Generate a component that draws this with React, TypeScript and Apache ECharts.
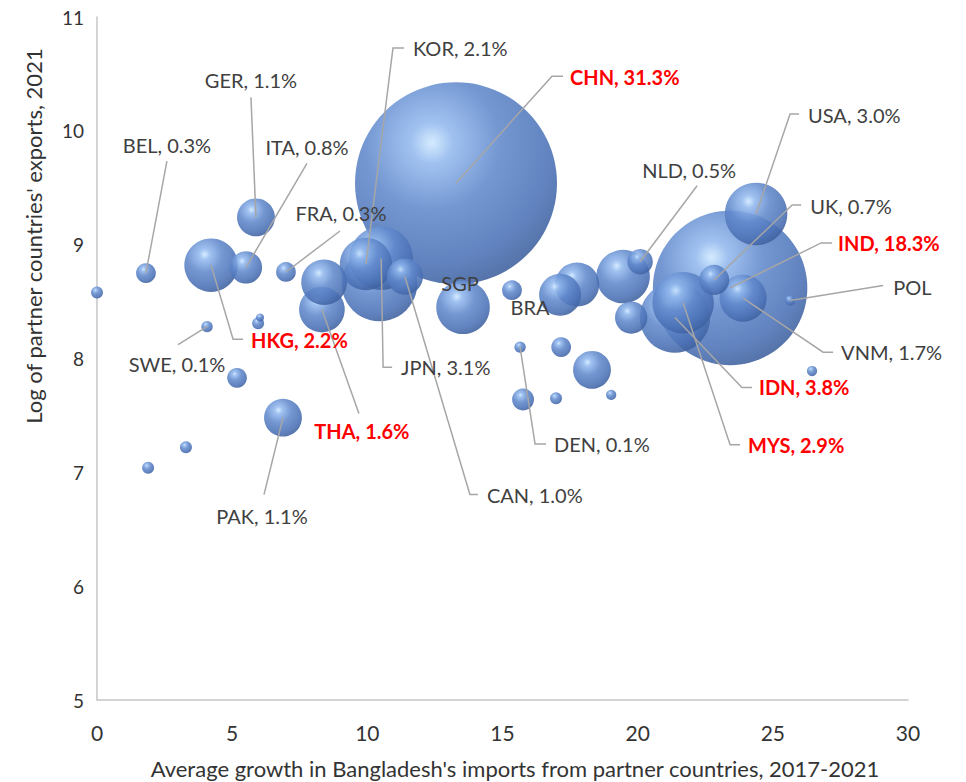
import React, { useEffect, useRef } from "react";
import * as echarts from "echarts";

// ---------------- data ----------------
const countries = [
  "CHN", "IND", "IDN", "JPN", "USA", "MYS", "HKG", "KOR", "VNM", "THA",
  "GER", "PAK", "CAN", "ITA", "UK", "NLD", "BEL", "FRA", "SWE", "DEN",
  "SGP", "BRA", "POL",
  "", "", "", "", "", "", "", "", "", "", "", "", "", "", "", "", "", "",
];
// average growth in imports 2017-2021 (x)
const growth = [
  13.28, 23.42, 21.38, 10.51, 24.38, 21.68, 4.22, 9.95, 23.9, 8.32,
  5.88, 6.88, 11.39, 5.51, 22.83, 20.09, 1.81, 6.99, 4.07, 15.65,
  13.54, 15.35, 25.64,
  0.0, 5.18, 3.29, 1.89, 5.96, 6.03, 8.4, 10.45, 17.76, 17.13, 19.46, 19.76,
  17.17, 18.31, 15.76, 16.98, 19.02, 26.45,
];
// log of partner exports, 2021 (y)
const logExports = [
  9.54, 8.62, 8.36, 8.88, 9.27, 8.49, 8.82, 8.83, 8.53, 8.43,
  9.24, 7.48, 8.72, 8.8, 8.69, 8.85, 8.75, 8.76, 8.28, 8.1,
  8.45, 8.6, 8.51,
  8.58, 7.83, 7.22, 7.04, 8.31, 8.36, 8.67, 8.66, 8.65, 8.56, 8.72, 8.36,
  8.1, 7.9, 7.64, 7.65, 7.68, 7.89,
];
// share of Bangladesh's imports, % (bubble size)
const importShare = [
  31.3, 18.3, 3.8, 3.1, 3.0, 2.9, 2.2, 2.1, 1.7, 1.6,
  1.1, 1.1, 1.0, 0.8, 0.7, 0.5, 0.3, 0.3, 0.1, 0.1,
  2.2, 0.3, 0.08,
  0.11, 0.3, 0.11, 0.11, 0.11, 0.05, 1.6, 4.4, 1.5, 1.35, 2.2, 0.8,
  0.3, 1.1, 0.37, 0.11, 0.08, 0.08,
];
const showShare = ["SGP", "BRA", "POL"]; // labelled without share
const highlighted = ["CHN", "IND", "IDN", "MYS", "HKG", "THA"];

const xTitle = "Average growth in Bangladesh's imports from partner countries, 2017-2021";
const yTitle = "Log of partner countries' exports, 2021";

// ---------------- label layout (pixel offsets from bubble centre) ----------------
type LabelLayout = { t: [number, number]; align: "left" | "center"; line: [number, number][] };
const labelLayout: Record<string, LabelLayout> = {
  BEL: { t: [21, -128], align: "center", line: [[21, -112]] },
  GER: { t: [-5, -137], align: "center", line: [[-5, -120]] },
  ITA: { t: [61, -120], align: "center", line: [[61, -104]] },
  FRA: { t: [55, -59], align: "center", line: [[54, -41]] },
  NLD: { t: [49, -92], align: "center", line: [[57, -76]] },
  THA: { t: [40, 121], align: "center", line: [[37, 104]] },
  SWE: { t: [-30, 37], align: "center", line: [[-29, 18]] },
  PAK: { t: [-21, 98], align: "center", line: [[-19, 77]] },
  SGP: { t: [-3, -24], align: "center", line: [] },
  BRA: { t: [18, 17], align: "center", line: [] },
  KOR: { t: [47, -216], align: "left", line: [[27, -216], [38, -216]] },
  CHN: { t: [114, -106], align: "left", line: [[96, -107], [107, -107]] },
  USA: { t: [52, -99], align: "left", line: [[34, -100], [43, -100]] },
  UK: { t: [96, -74], align: "left", line: [[78, -75], [87, -75]] },
  IND: { t: [108, -45], align: "left", line: [[91, -45], [102, -45]] },
  POL: { t: [103, -13], align: "left", line: [[93, -15]] },
  VNM: { t: [98, 54], align: "left", line: [[80, 54], [90, 54]] },
  IDN: { t: [84, 69], align: "left", line: [[67, 70], [77, 70]] },
  MYS: { t: [65, 142], align: "left", line: [[47, 142], [57, 142]] },
  DEN: { t: [34, 97], align: "left", line: [[15, 97], [26, 97]] },
  CAN: { t: [82, 218], align: "left", line: [[65, 218], [73, 218]] },
  JPN: { t: [20, 109], align: "left", line: [[2, 109], [11, 109]] },
  HKG: { t: [40, 75], align: "left", line: [[22, 74], [32, 74]] },
};

const FONT = "Lato, 'Open Sans', sans-serif";
const RADIUS_PER_ROOT = 18.05;

export default function App() {
  const ref = useRef<HTMLDivElement>(null);
  useEffect(() => {
    const chart = echarts.init(ref.current!, undefined, { renderer: "svg" });
    const order = countries.map((_, i) => i).sort((a, b) => importShare[b] - importShare[a]);
    const data = order.map((i) => ({ name: countries[i], value: [growth[i], logExports[i], importShare[i]] }));
    const bubbleColor = {
      type: "radial", x: 0.38, y: 0.3, r: 0.74,
      colorStops: [
        { offset: 0, color: "#cfe9ff" },
        { offset: 0.14, color: "#93b9ee" },
        { offset: 0.45, color: "#6189cc" },
        { offset: 0.82, color: "#4a70b4" },
        { offset: 1, color: "#3d5f9c" },
      ],
    };
    const axisLine = { show: true, lineStyle: { color: "#c6c6c6", width: 1.5 } };
    chart.setOption({
      animation: false,
      grid: { left: 97, right: 58, top: 17, bottom: 82 },
      xAxis: {
        type: "value", min: 0, max: 30, interval: 5,
        axisLine, axisTick: { show: false }, splitLine: { show: false },
        axisLabel: { margin: 22, fontSize: 21, color: "#333", fontFamily: FONT },
      },
      yAxis: {
        type: "value", min: 5, max: 11, interval: 1,
        axisLine, axisTick: { show: false }, splitLine: { show: false },
        axisLabel: { margin: 13, fontSize: 19, color: "#333", fontFamily: FONT },
      },
      series: [
        {
          type: "scatter",
          data,
          symbolSize: (v: number[]) => 2 * RADIUS_PER_ROOT * Math.sqrt(v[2]),
          itemStyle: { color: bubbleColor, opacity: 0.88 },
          emphasis: { disabled: true },
        },
      ],
    });

    const graphics: any[] = [];
    countries.forEach((name, i) => {
      const lay = labelLayout[name];
      if (!lay) return;
      const [cx, cy] = chart.convertToPixel({ gridIndex: 0 }, [growth[i], logExports[i]]) as number[];
      if (lay.line.length) {
        graphics.push({
          type: "polyline", silent: true, z: 50,
          shape: { points: [[cx, cy], ...lay.line.map(([dx, dy]) => [cx + dx, cy + dy])] },
          style: { stroke: "#a6a6a6", lineWidth: 1.5, fill: "none" },
        });
      }
      const red = highlighted.includes(name);
      const text = showShare.includes(name) ? name : `${name}, ${importShare[i].toFixed(1)}%`;
      graphics.push({
        type: "text", silent: true, z: 60,
        x: cx + lay.t[0], y: cy + lay.t[1],
        style: {
          text, fill: red ? "#ff0000" : "#404040",
          font: `${red ? "bold " : ""}20px ${FONT}`,
          align: lay.align, textAlign: lay.align, verticalAlign: "middle", textVerticalAlign: "middle",
        },
      });
    });
    graphics.push({
      type: "text", silent: true, z: 60, x: 515, y: 768,
      style: { text: xTitle, fill: "#333", font: `22px ${FONT}`, align: "center", textAlign: "center", verticalAlign: "middle", textVerticalAlign: "middle" },
    });
    graphics.push({
      type: "text", silent: true, z: 60, x: 33, y: 236, rotation: Math.PI / 2,
      style: { text: yTitle, fill: "#333", font: `22px ${FONT}`, align: "center", textAlign: "center", verticalAlign: "middle", textVerticalAlign: "middle" },
    });
    chart.setOption({ graphic: { elements: graphics } });
    return () => chart.dispose();
  }, []);
  return <div ref={ref} style={{ position: "fixed", left: 0, top: 0, width: 966, height: 782, background: "#fff" }} />;
}
